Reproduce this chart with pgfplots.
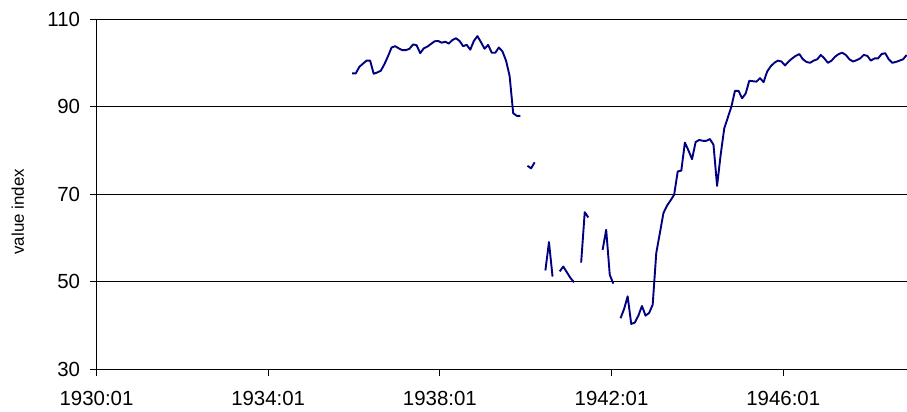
\documentclass[border=0pt]{standalone}
\usepackage{pgfplots}
\pgfplotsset{compat=1.18}
\usepackage{pgfplotstable}
\usepackage{fontspec}
\setmainfont{Liberation Sans}
\definecolor{navyline}{RGB}{0,0,128}
\pgfplotstableread{
n v
72 97.6
73 97.6
74 99.1
75 99.8
76 100.5
77 100.5
78 97.5
79 97.8
80 98.2
81 99.7
82 101.5
83 103.5
84 103.8
85 103.3
86 102.9
87 102.9
88 103.2
89 104.2
90 104.0
91 102.2
92 103.3
93 103.7
94 104.3
95 104.9
96 105.0
97 104.6
98 104.8
99 104.4
100 105.2
101 105.6
102 105.0
103 103.8
104 104.1
105 103.0
106 105.0
107 106.1
108 104.7
109 103.2
110 104.1
111 102.3
112 102.3
113 103.5
114 102.6
115 100.5
116 97.0
117 88.5
118 87.9
119 87.9
120 nan
121 76.5
122 75.9
123 77.3
124 nan
125 nan
126 52.6
127 59.1
128 51.2
129 nan
130 52.4
131 53.5
132 52.2
133 50.9
134 49.9
135 nan
136 54.4
137 65.9
138 64.7
139 nan
140 nan
141 nan
142 57.3
143 61.9
144 51.6
145 49.6
146 nan
147 41.7
148 43.8
149 46.7
150 40.4
151 40.7
152 42.3
153 44.5
154 42.3
155 42.9
156 44.8
157 56.6
158 61.1
159 65.7
160 67.4
161 68.6
162 69.9
163 75.2
164 75.4
165 81.8
166 80.0
167 78.0
168 81.9
169 82.4
170 82.2
171 82.2
172 82.6
173 81.3
174 71.9
175 79.0
176 85.0
177 87.5
178 90.0
179 93.6
180 93.6
181 91.9
182 93.0
183 95.9
184 95.8
185 95.7
186 96.5
187 95.6
188 98.0
189 99.2
190 100.0
191 100.5
192 100.3
193 99.4
194 100.3
195 101.0
196 101.6
197 102.0
198 100.8
199 100.2
200 100.0
201 100.5
202 100.8
203 101.8
204 101.0
205 100.0
206 100.5
207 101.4
208 102.0
209 102.3
210 101.8
211 100.8
212 100.3
213 100.6
214 101.0
215 101.8
216 101.6
217 100.5
218 101.0
219 101.0
220 102.0
221 102.2
222 100.8
223 100.0
224 100.2
225 100.5
226 100.8
227 101.8
}\datatable
\begin{document}
\begin{tikzpicture}
\begin{axis}[
  at={(0,0)}, anchor=south west,
  scale only axis,
  width=810.5bp, height=350.5bp,
  xmin=0.5, xmax=227.1,
  ymin=30, ymax=110,
  axis x line=bottom, axis y line=left,
  axis line style={-, black, line width=0.9bp},
  xtick={0.5,48.5,96.5,144.5,192.5},
  xticklabels={1930:01,1934:01,1938:01,1942:01,1946:01},
  ytick={30,50,70,90,110},
  ymajorgrids,
  grid style={black, line width=0.9bp},
  tick align=outside,
  major tick length=6bp,
  tick style={black, line width=0.9bp},
  /pgf/number format/assume math mode=true,
  tick label style={font=\fontsize{20.5}{24}\selectfont},
  xticklabel style={yshift=-12bp},
  yticklabel style={xshift=-7bp},
  ylabel={value index},
  ylabel style={font=\fontsize{17}{20}\selectfont, at={(axis description cs:-0.097,0.45)}, anchor=center},
  unbounded coords=jump,
  clip=false,
]
\addplot[navyline, line width=1.9bp, line join=round] table[x=n, y=v] {\datatable};
\end{axis}
\pgfresetboundingbox
\path[use as bounding box] (-96.5bp,-42.5bp) rectangle (810.5bp,369.5bp);
\end{tikzpicture}
\end{document}
